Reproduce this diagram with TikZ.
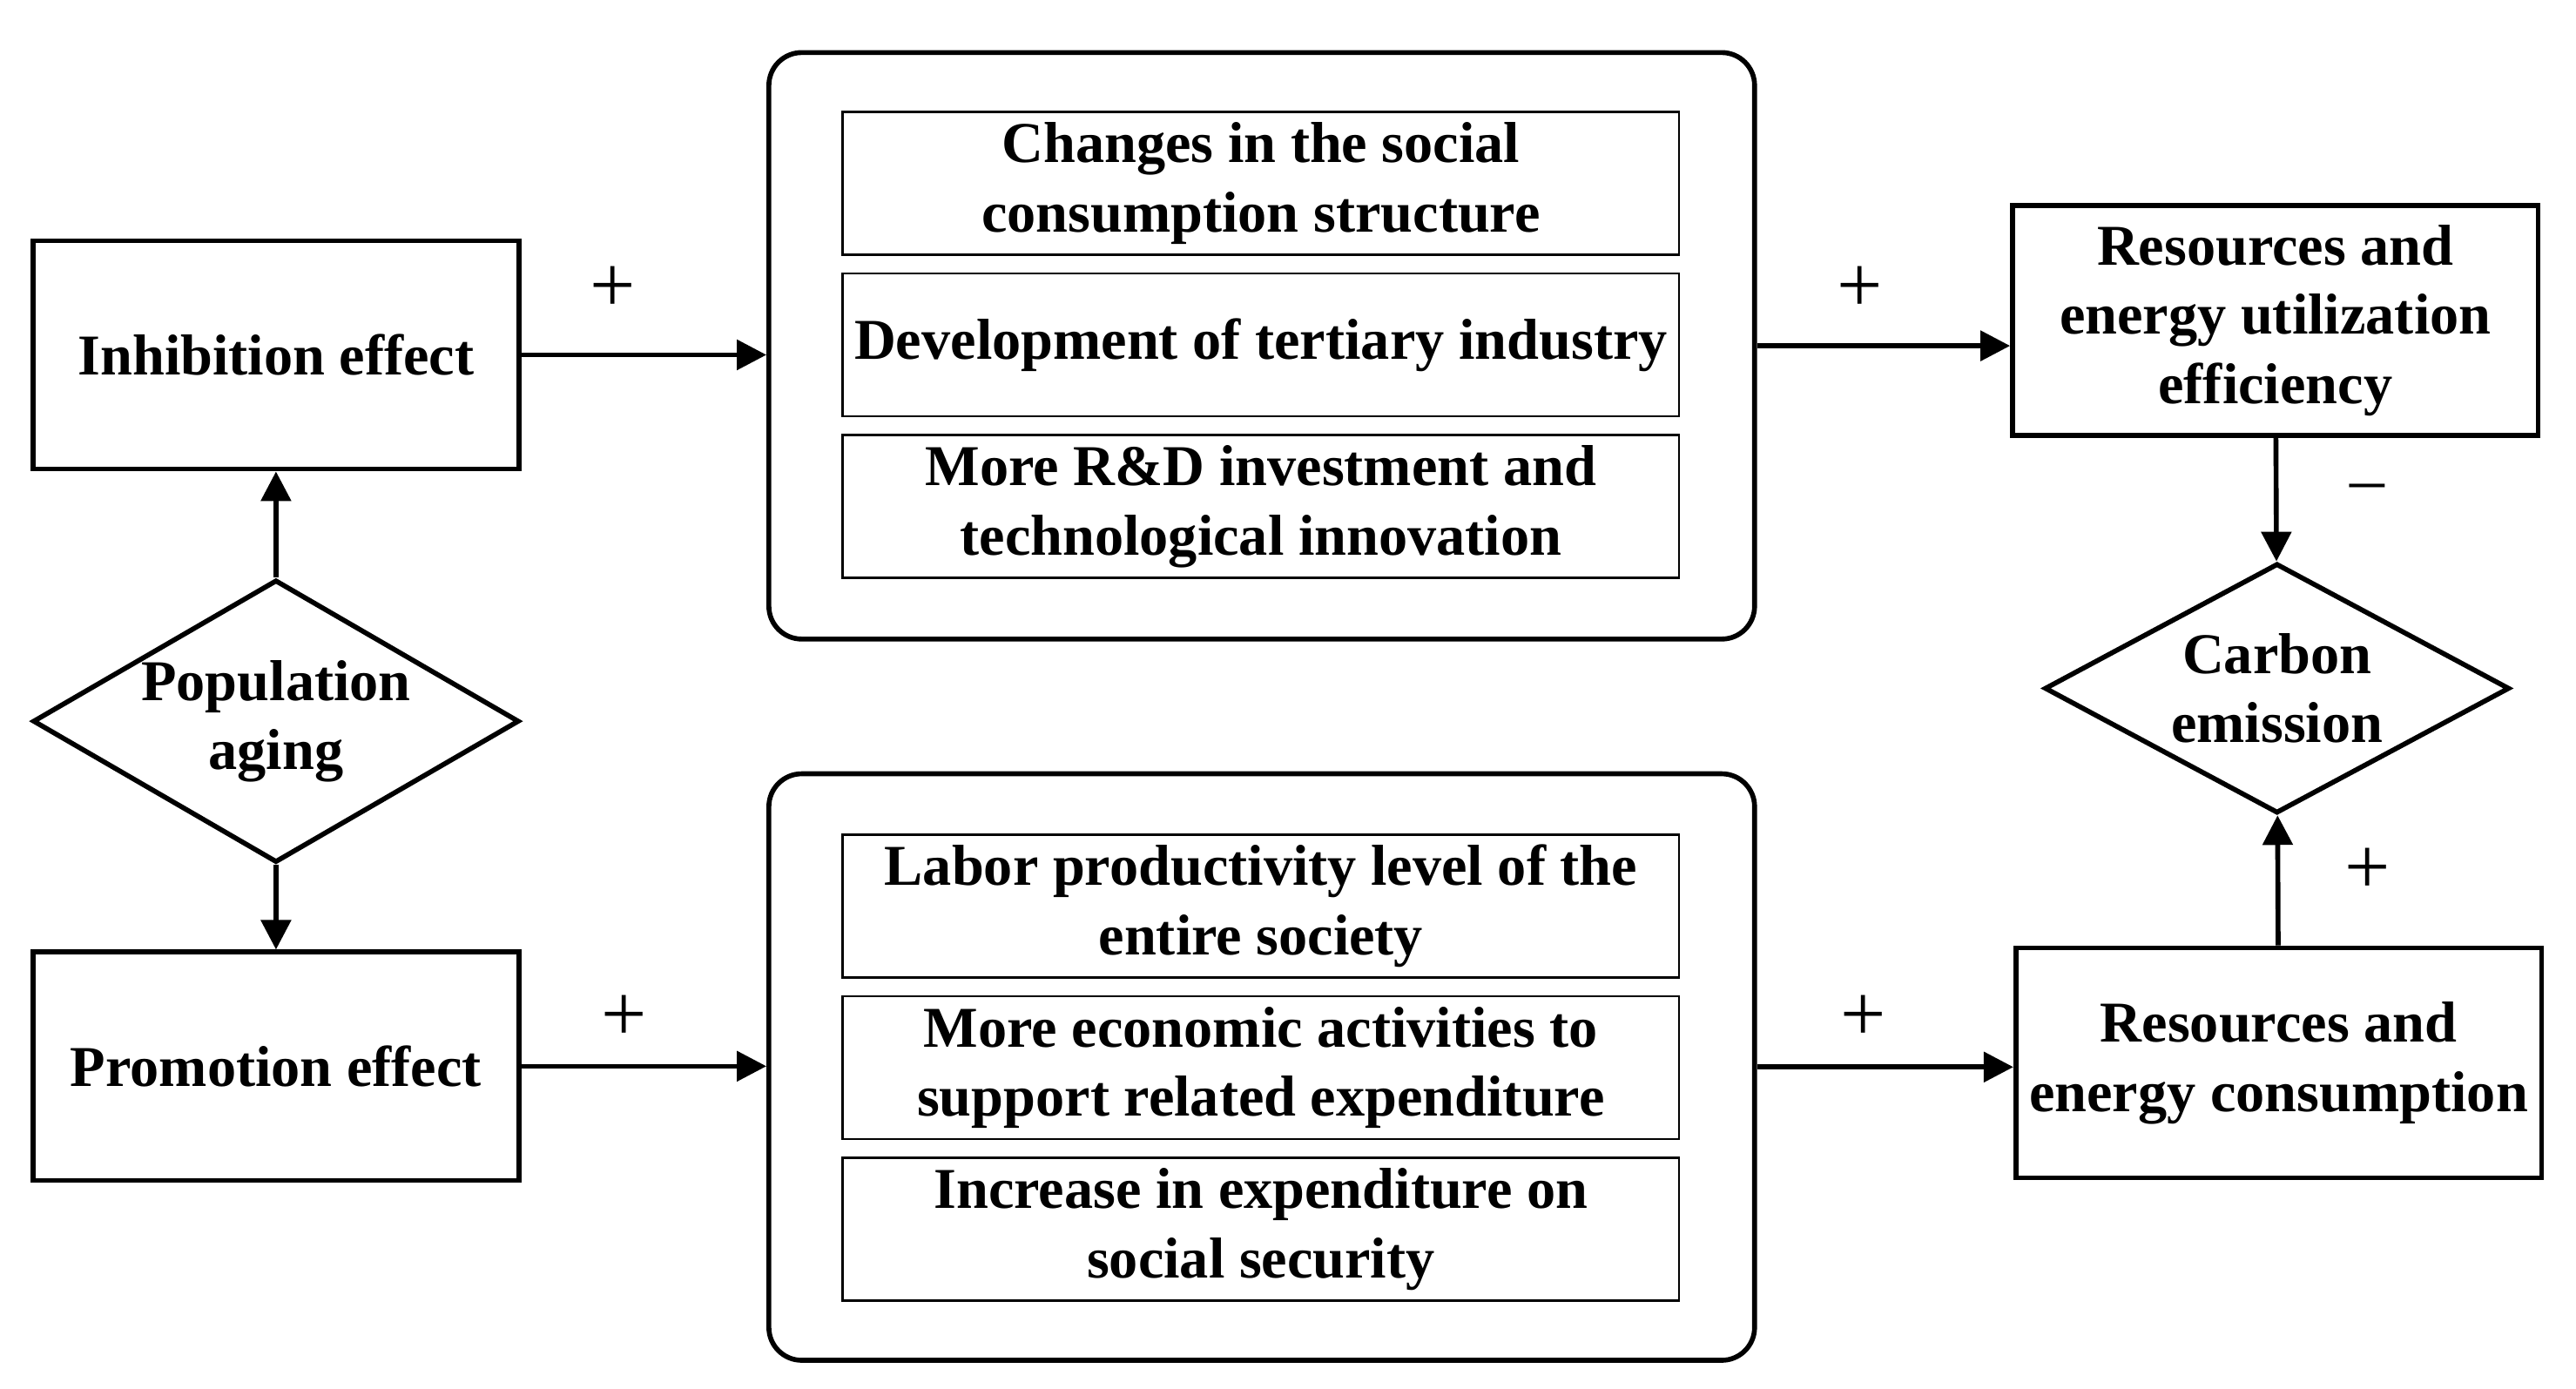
\documentclass[tikz,border=0pt]{standalone}
\usepackage{fontspec}
\setmainfont{Liberation Serif}
\usetikzlibrary{positioning,shapes.geometric,arrows.meta}

\begin{document}
\begin{tikzpicture}[
          font=\fontsize{10}{12}\selectfont\bfseries,
          node distance=0.1cm,
          eff/.style={draw,line width=0.85pt,minimum width=3.2cm,minimum height=1.4cm,align=center,inner sep=0pt},
          dia/.style={draw,diamond,line width=0.85pt,align=center,inner sep=0pt},
          grp/.style={draw,rounded corners=0.2cm,line width=0.85pt,minimum width=6cm,minimum height=3.57cm},
          item/.style={draw,line width=0.4pt,minimum width=5.09cm,minimum height=0.87cm,align=center,inner sep=0pt},
          sgn/.style={font=\fontsize{14}{16}\selectfont,inner sep=0pt},
          arr/.style={line width=0.85pt,-{Triangle[length=1.8mm,width=1.8mm]}}
            ]
    \useasboundingbox (0,0) rectangle (15.68,8.45);
    % left column
    \node[eff,minimum width=2.96cm,minimum height=1.39cm] (inh) at (1.68,6.29) {Inhibition effect};
    \node[dia,minimum width=2.96cm,minimum height=1.72cm,aspect=1.72] (pop) at (1.68,4.06) {Population\\aging};
    \node[eff,minimum width=2.96cm,minimum height=1.39cm] (pro) at (1.68,1.96) {Promotion effect};
    % middle groups
    \node[grp] (up) at (7.68,6.345) {};
    \node[item] (u1) at (7.675,7.335) {Changes in the social\\consumption structure};
    \node[item,below=of u1] (u2) {Development of tertiary industry};
    \node[item,below=of u2] (u3) {More R\&D investment and\\technological innovation};
    \node[grp] (low) at (7.68,1.955) {};
    \node[item] (l1) at (7.675,2.935) {Labor productivity level of the\\entire society};
    \node[item,below=of l1] (l2) {More economic activities to\\support related expenditure};
    \node[item,below=of l2] (l3) {Increase in expenditure on\\social security};
    % right column
    \node[eff] (ef) at (13.85,6.50) {Resources and\\energy utilization\\efficiency};
    \node[dia,minimum width=2.83cm,minimum height=1.52cm,aspect=1.86] (car) at (13.86,4.26) {Carbon\\emission};
    \node[eff] (con) at (13.87,1.98) {Resources and\\energy consumption};
    % signs
    \node[sgn] (s1) at (3.73,6.69) {+};
    \node[sgn] (s2) at (3.80,2.25) {+};
    \node[sgn] (s3) at (11.32,6.69) {+};
    \node[sgn] (s4) at (11.34,2.25) {+};
    \node[sgn,font=\fontsize{12}{14}\selectfont] (s5) at (14.41,5.45) {--};
    \node[sgn] (s6) at (14.41,3.15) {+};
    \path (pop) edge[arr] (inh)
    (pop) edge[arr] (pro)
    (inh.east) edge[arr] (inh.east -| up.west)
    (pro.east) edge[arr] (pro.east -| low.west)
    (up.east) edge[arr] (up.east -| ef.west)
    (low.east) edge[arr] (low.east -| con.west)
    (ef) edge[arr] (car)
    (con) edge[arr] (car);
\end{tikzpicture}
\end{document}
